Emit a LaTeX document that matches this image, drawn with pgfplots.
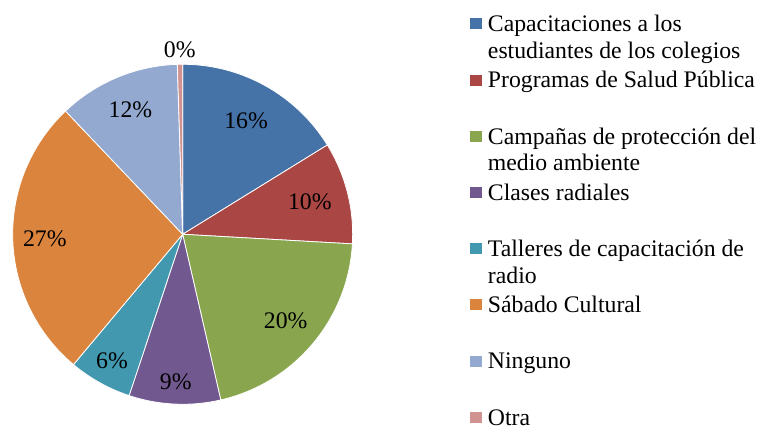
\documentclass[border=0pt]{standalone}
\usepackage{fontspec}
\setmainfont{Liberation Serif}
\usepackage{pgfplots}
\pgfplotsset{compat=1.18}

\definecolor{cA}{HTML}{4572A7}
\definecolor{cB}{HTML}{AA4643}
\definecolor{cC}{HTML}{89A54E}
\definecolor{cD}{HTML}{71588F}
\definecolor{cE}{HTML}{4198AF}
\definecolor{cF}{HTML}{DB843D}
\definecolor{cG}{HTML}{93A9CF}
\definecolor{cH}{HTML}{D19392}

\begin{document}
\begin{tikzpicture}[x=0.75pt, y=-0.75pt, font=\fontsize{17.8}{20}\selectfont]
\useasboundingbox (0,0) rectangle (760,425);

\begin{axis}[
    at={(137.0pt,-175.7pt)}, anchor=center,
    width=255pt, height=255pt, scale only axis,
    xmin=-1, xmax=1, ymin=-1, ymax=1,
    hide axis, clip=false,
  ]
  % share (%) / colour / label / label distance (fraction of radius)
  \gdef\cum{0}
  \foreach \v/\c/\l/\d in {16.2/cA/16/0.766, 9.7/cB/10/0.772, 20.5/cC/20/0.793,
      8.7/cD/9/0.868, 6.0/cE/6/0.853, 26.8/cF/27/0.811, 11.6/cG/12/0.796,
      0.5/cH/0/1.085}{
    \pgfmathsetmacro\a{90-3.6*\cum}
    \pgfmathsetmacro\b{90-3.6*(\cum+\v)}
    \pgfmathsetmacro\m{(\a+\b)/2}
    \pgfmathsetmacro\ca{cos(\a)}
    \pgfmathsetmacro\sa{sin(\a)}
    \pgfmathsetmacro\lx{\d*cos(\m)}
    \pgfmathsetmacro\ly{\d*sin(\m)}
    \pgfmathsetmacro\nc{\cum+\v}
    \xdef\cum{\nc}
    \edef\temp{\noexpand\fill[\c, draw=white, line width=0.6pt]
      (axis cs:0,0) -- (axis cs:\ca,\sa)
      arc[start angle=\a, end angle=\b, radius=127.5pt] -- cycle;
      \noexpand\node[inner sep=0pt] at (axis cs:\lx,\ly) {\l\noexpand\%};}
    \temp
  }
\end{axis}

% legend
\foreach \i/\c/\t in {
    0/cA/{Capacitaciones a los\\estudiantes de los colegios},
    1/cB/{Programas de Salud Pública},
    2/cC/{Campañas de protección del\\medio ambiente},
    3/cD/{Clases radiales},
    4/cE/{Talleres de capacitación de\\radio},
    5/cF/{Sábado Cultural},
    6/cG/{Ninguno},
    7/cH/{Otra}}{
  \fill[\c] (470.3,18.3+56.2*\i) rectangle ++(11.2,11);
  \node[anchor=base west, inner sep=0pt] at (487.7,31.6+56.2*\i)
    {\parbox[t]{220pt}{\raggedright\t}};
}
\end{tikzpicture}
\end{document}
